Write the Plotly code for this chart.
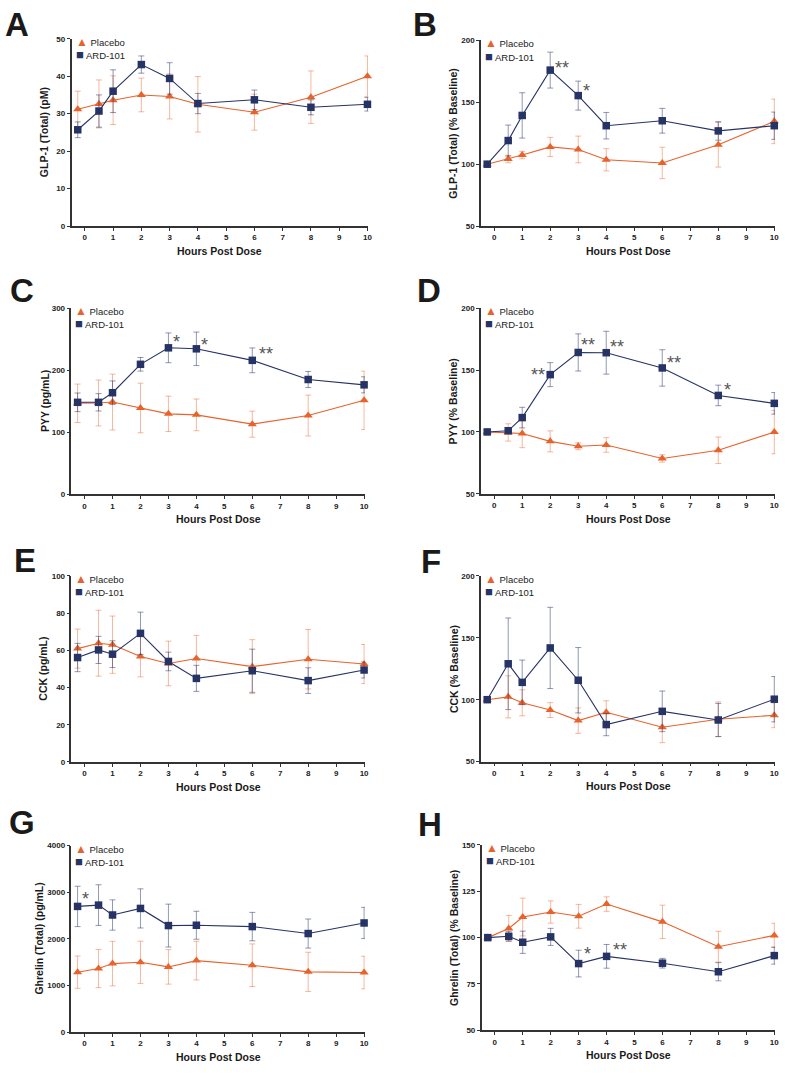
import plotly.graph_objects as go

# ---------------- data ----------------
hours = [-0.25, 0.5, 1, 2, 3, 4, 6, 8, 10]
x_ticks = [0, 1, 2, 3, 4, 5, 6, 7, 8, 9, 10]
series_names = ["Placebo", "ARD-101"]
x_title = "Hours Post Dose"

# A: GLP-1 (Total) (pM)
a_placebo = [31.2, 32.6, 33.6, 35.0, 34.6, 32.5, 30.4, 34.4, 40.0]
a_placebo_err = [4.8, 6.4, 6.5, 4.5, 6.0, 7.4, 4.8, 7.0, 5.4]
a_ard = [25.7, 30.7, 36.0, 43.1, 39.4, 32.7, 33.7, 31.7, 32.5]
a_ard_err = [2.1, 4.3, 5.7, 2.3, 4.2, 2.7, 2.6, 2.0, 1.8]

# B: GLP-1 (Total) (% Baseline)
b_placebo = [100, 104.2, 107.4, 114.0, 111.9, 103.6, 101.0, 115.7, 134.6]
b_placebo_err = [0, 3, 3, 7.7, 10.8, 9, 12.7, 18, 18]
b_ard = [100, 119.1, 139.4, 176.0, 155.4, 131.1, 135.1, 126.9, 131.1]
b_ard_err = [0, 12.5, 18.3, 14.5, 11.7, 10.7, 10, 7.5, 11]

# C: PYY (pg/mL)
c_placebo = [146.5, 147.0, 148.6, 139.0, 129.5, 127.9, 112.9, 126.8, 151.3]
c_placebo_err = [31, 37, 45, 40, 28.5, 25.6, 21, 33, 47]
c_ard = [148.1, 148.1, 163.6, 209.4, 236.0, 234.4, 215.8, 184.9, 176.3]
c_ard_err = [15, 14, 19, 11, 24, 27, 20, 13, 13]

# D: PYY (% Baseline)
d_placebo = [100, 99.6, 98.8, 92.4, 88.4, 89.5, 78.6, 85.2, 99.9]
d_placebo_err = [0, 7, 11.5, 8.5, 2.8, 5.9, 3, 10.7, 17.5]
d_ard = [100, 101, 111.6, 146.3, 164.2, 164.0, 151.7, 129.5, 123.1]
d_ard_err = [0, 2, 8.3, 9.7, 15, 17.3, 14.7, 8.3, 8.7]

# E: CCK (pg/mL)
e_placebo = [60.9, 63.8, 63.0, 56.7, 52.9, 55.6, 51.2, 55.2, 52.6]
e_placebo_err = [10.5, 17.7, 15.4, 11, 12, 12.4, 14.5, 16, 10.5]
e_ard = [56.1, 60.2, 57.9, 69.1, 54.0, 44.9, 49.0, 43.7, 49.4]
e_ard_err = [7.6, 7.3, 7.2, 11.4, 5, 7, 11.6, 6.9, 4.3]

# F: CCK (% Baseline)
f_placebo = [100, 102.3, 97.5, 91.6, 83.1, 89.8, 77.8, 84.2, 87.4]
f_placebo_err = [0, 17, 10.5, 6, 10.3, 9.3, 12.5, 14, 10]
f_ard = [100, 129.0, 114.0, 141.8, 115.7, 79.9, 90.6, 83.6, 100.4]
f_ard_err = [0, 37, 18, 32.8, 26.4, 9, 16.4, 13.4, 18.3]

# G: Ghrelin (Total) (pg/mL)
g_placebo = [1284, 1362, 1468, 1496, 1397, 1532, 1433, 1291, 1277]
g_placebo_err = [347, 410, 478, 453, 370, 415, 457, 420, 350]
g_ard = [2695, 2723, 2511, 2652, 2284, 2291, 2262, 2113, 2340]
g_ard_err = [433, 436, 325, 420, 460, 300, 305, 312, 335]

# H: Ghrelin (Total) (% Baseline)
h_placebo = [100, 104.9, 111.1, 113.8, 111.5, 118.1, 108.5, 95.1, 101.2]
h_placebo_err = [0, 7, 10.2, 6, 6.4, 3.9, 9, 8.3, 6.5]
h_ard = [100, 100.7, 97.5, 100.4, 86.0, 89.9, 86.2, 81.6, 90.3]
h_ard_err = [0, 2.5, 6, 4.6, 7.2, 6.4, 2.6, 4.9, 4.6]

panel_letters = ["A", "B", "C", "D", "E", "F", "G", "H"]
y_titles = ["GLP-1 (Total) (pM)", "GLP-1 (Total) (% Baseline)",
            "PYY (pg/mL)", "PYY (% Baseline)",
            "CCK (pg/mL)", "CCK (% Baseline)",
            "Ghrelin (Total) (pg/mL)", "Ghrelin (Total) (% Baseline)"]
y_ticks = [[0, 10, 20, 30, 40, 50], [50, 100, 150, 200],
           [0, 100, 200, 300], [50, 100, 150, 200],
           [0, 20, 40, 60, 80, 100], [50, 100, 150, 200],
           [0, 1000, 2000, 3000, 4000], [50, 75, 100, 125, 150]]

# significance markers on ARD-101: (point index in hours, label)
sig_marks = [[], [(3, "**"), (4, "*")],
             [(4, "*"), (5, "*"), (6, "**")],
             [(3, "**"), (4, "**"), (5, "**"), (6, "**"), (7, "*")],
             [], [], [(0, "*")], [(4, "*"), (5, "**")]]

placebo_all = [a_placebo, b_placebo, c_placebo, d_placebo, e_placebo, f_placebo, g_placebo, h_placebo]
placebo_err_all = [a_placebo_err, b_placebo_err, c_placebo_err, d_placebo_err,
                   e_placebo_err, f_placebo_err, g_placebo_err, h_placebo_err]
ard_all = [a_ard, b_ard, c_ard, d_ard, e_ard, f_ard, g_ard, h_ard]
ard_err_all = [a_ard_err, b_ard_err, c_ard_err, d_ard_err, e_ard_err, f_ard_err, g_ard_err, h_ard_err]

# ---------------- styling / layout ----------------
W, H = 785, 1075
FONT = "Liberation Sans, Arial, sans-serif"
ORANGE = "#E8622C"
NAVY = "#263365"
ORANGE_ERR = "rgba(232,98,44,0.45)"
NAVY_ERR = "rgba(38,51,101,0.5)"
AX = "#333333"
X_RANGE = [-0.47, 10.03]

# plot rectangles in pixels (x0, x1, y0, y1)
rects = [(71.9, 370.2, 35, 224), (483.5, 779.1, 36.7, 224),
         (71.8, 366.8, 306.7, 494.3), (483.5, 779.1, 306.7, 494),
         (71.8, 366.8, 576.7, 764.3), (483.5, 779.1, 576.7, 764),
         (71.8, 366.8, 848.7, 1036.7), (484.1, 779.1, 848, 1035)]
letter_pos = [(3, 20.5), (413, 21), (8, 289), (417, 289),
              (12, 560.7), (421, 562), (7, 825.5), (418, 827)]
ytitle_x = [45, 455.7, 45, 455.7, 43, 455.7, 39, 455.7]
# star offsets in px (right, up) per panel, same order as sig_marks
star_offsets = [[], [(12, 5), (8, 8)],
                [(8, 9), (8, 7), (14, 9)],
                [(-12, 3), (10, 10), (11, 9), (12, 8), (9, 8)],
                [], [], [(8, 10)], [(9, 13), (13, 9)]]

fig = go.Figure()
annotations = []
layout_axes = {}

for i in range(8):
    n = i + 1
    xa = "x" if n == 1 else f"x{n}"
    ya = "y" if n == 1 else f"y{n}"
    x0, x1, y0, y1 = rects[i]
    yt = y_ticks[i]

    fig.add_trace(go.Scatter(
        x=hours, y=placebo_all[i], name=series_names[0], mode="lines+markers",
        xaxis=xa, yaxis=ya, showlegend=False, cliponaxis=False,
        line=dict(color=ORANGE, width=1.1),
        marker=dict(symbol="triangle-up", size=8, color=ORANGE),
        error_y=dict(type="data", array=placebo_err_all[i], color=ORANGE_ERR,
                     thickness=1, width=3)))
    fig.add_trace(go.Scatter(
        x=hours, y=ard_all[i], name=series_names[1], mode="lines+markers",
        xaxis=xa, yaxis=ya, showlegend=False, cliponaxis=False,
        line=dict(color=NAVY, width=1.1),
        marker=dict(symbol="square", size=7.5, color=NAVY),
        error_y=dict(type="data", array=ard_err_all[i], color=NAVY_ERR,
                     thickness=1, width=3)))

    axis_common = dict(showline=True, linecolor=AX, linewidth=1.5, ticks="outside",
                       ticklen=3, tickwidth=1.3, tickcolor=AX, showgrid=False,
                       zeroline=False,
                       tickfont=dict(family=FONT, size=8, color="#222", weight="bold"))
    layout_axes["xaxis" if n == 1 else f"xaxis{n}"] = dict(
        axis_common, domain=[x0 / W, x1 / W], range=X_RANGE,
        tickmode="array", tickvals=x_ticks, ticktext=[str(t) for t in x_ticks],
        anchor=ya)
    layout_axes["yaxis" if n == 1 else f"yaxis{n}"] = dict(
        axis_common, domain=[1 - y1 / H, 1 - y0 / H], range=[yt[0], yt[-1]],
        tickmode="array", tickvals=yt, ticktext=[str(t) for t in yt],
        anchor=xa)

    dom_x = f"{xa} domain"
    dom_y = f"{ya} domain"
    ph = y1 - y0
    # panel letter
    lx, ly = letter_pos[i]
    annotations.append(dict(text=panel_letters[i], xref="paper", yref="paper",
                            x=lx / W, y=1 - ly / H, xanchor="left", yanchor="middle",
                            showarrow=False,
                            font=dict(family=FONT, size=33, color="#1a1a1a", weight="bold")))
    # y title
    annotations.append(dict(text=y_titles[i], xref="paper", yref="paper",
                            x=ytitle_x[i] / W, y=1 - (y0 + y1) / 2 / H, textangle=-90,
                            xanchor="center", yanchor="middle", showarrow=False,
                            font=dict(family=FONT, size=10.5, color="#1a1a1a", weight="bold")))
    # x title
    annotations.append(dict(text=x_title, xref="paper", yref="paper",
                            x=(x0 + x1) / 2 / W, y=1 - (y1 + 25) / H,
                            xanchor="center", yanchor="middle", showarrow=False,
                            font=dict(family=FONT, size=10.5, color="#1a1a1a", weight="bold")))
    # legend (compact, GraphPad-like)
    for k, (sym, col, fs) in enumerate([("\u25B2", ORANGE, 12), ("\u25A0", NAVY, 13)]):
        annotations.append(dict(
            text=f'<span style="color:{col};font-size:{fs}px">{sym}</span> {series_names[k]}',
            xref=dom_x, yref=dom_y, x=2.0 / (x1 - x0), y=1 - (3 + 13 * k) / ph,
            xanchor="left", yanchor="middle", showarrow=False,
            font=dict(family=FONT, size=9.5, color="#222")))
    # significance stars
    for (idx, lab), (dx, du) in zip(sig_marks[i], star_offsets[i]):
        annotations.append(dict(text=lab, xref=xa, yref=ya, x=hours[idx], y=ard_all[i][idx],
                                xshift=dx, yshift=du - 3, xanchor="center", yanchor="middle",
                                showarrow=False,
                                font=dict(family=FONT, size=18, color="#555")))

fig.update_layout(width=W, height=H, margin=dict(l=0, r=0, t=0, b=0),
                  paper_bgcolor="white", plot_bgcolor="white",
                  annotations=annotations, showlegend=False, **layout_axes)

fig.write_html("out.html")
